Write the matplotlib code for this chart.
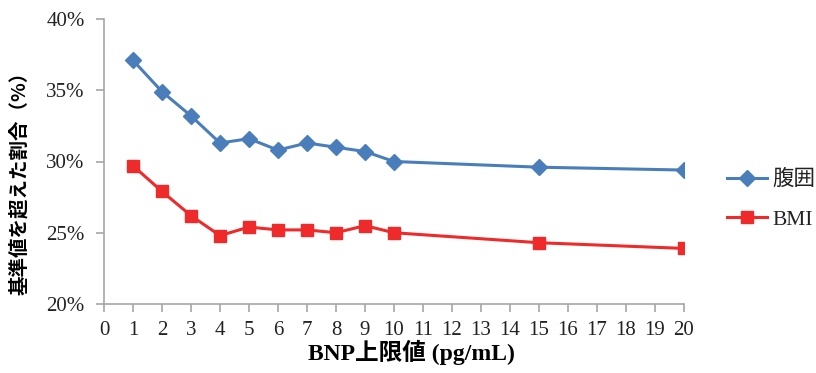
import matplotlib
matplotlib.use("Agg")
import matplotlib.pyplot as plt
from matplotlib.ticker import PercentFormatter

plt.rcParams['font.family'] = ['Liberation Serif', 'Noto Sans CJK JP']

# BNP upper limit (pg/mL)
bnp = [1, 2, 3, 4, 5, 6, 7, 8, 9, 10, 15, 20]
# share above reference value (%)
waist = [37.1, 34.9, 33.2, 31.3, 31.6, 30.8, 31.3, 31.0, 30.7, 30.0, 29.6, 29.4]
bmi = [29.7, 27.9, 26.2, 24.8, 25.4, 25.2, 25.2, 25.0, 25.5, 25.0, 24.3, 23.9]
series_names = ["腹囲", "BMI"]

fig = plt.figure(figsize=(8.16, 3.73), dpi=100)
ax = fig.add_axes([104/816, 1-304/373, 580/816, 285/373])

ax.plot(bnp, waist, color="#4a7ebb", lw=2.2, marker="D", ms=8.5,
        label=series_names[0])
ax.plot(bnp, bmi, color="#ee2a2a", lw=2.2, marker="s", ms=8.5,
        label=series_names[1])

ax.set_xlim(0, 20)
ax.set_ylim(20, 40)
ax.set_xticks(range(0, 21))
ax.set_yticks([20, 25, 30, 35, 40])
ax.yaxis.set_major_formatter(PercentFormatter(decimals=0))

for s in ["top", "right"]:
    ax.spines[s].set_visible(False)
for s in ["left", "bottom"]:
    ax.spines[s].set_color("#a6a6a6")
    ax.spines[s].set_linewidth(1.2)
ax.tick_params(colors="#a6a6a6", labelcolor="#222222", labelsize=15,
               length=6, width=1.2, direction="out")
ax.tick_params(axis="y", pad=8)
ax.tick_params(axis="x", pad=6)

ax.set_xlabel("BNP上限値 (pg/mL)", fontsize=17, fontweight="bold")
ax.xaxis.set_label_coords(0.53, -0.125)
ax.set_ylabel("基準値を超えた割合（%）", fontsize=14, fontweight="bold",
              family=['Noto Sans CJK JP', 'DejaVu Sans'])
ax.yaxis.set_label_coords(-0.13, 0.44)

ax.legend(loc="center left", bbox_to_anchor=(1.074, 0.365), frameon=False,
          fontsize=15.5, handlelength=1.85, handletextpad=0.25,
          labelspacing=0.9, borderpad=0, borderaxespad=0,
          labelcolor="#222222")

fig.savefig("out.png", dpi=100)
